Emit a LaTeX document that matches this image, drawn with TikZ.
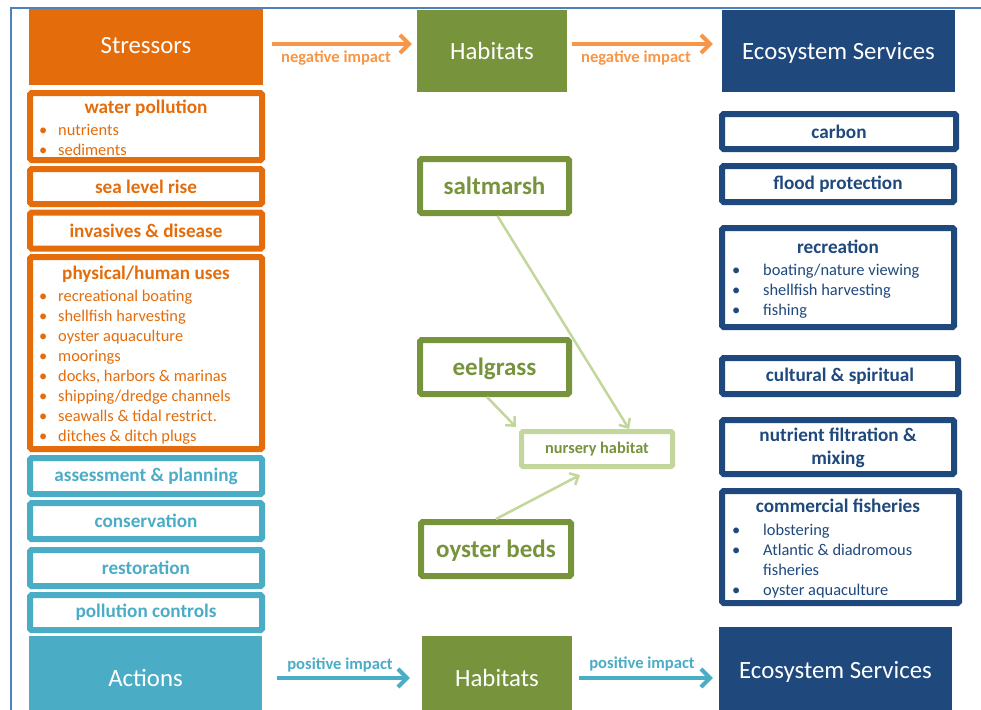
\documentclass[tikz,border=0pt]{standalone}
\usepackage{fontspec}
\setmainfont{Carlito}
\usetikzlibrary{arrows.meta,calc}
\definecolor{orng}{HTML}{E46C0A}
\definecolor{lorng}{HTML}{F79646}
\definecolor{teal2}{HTML}{4BACC6}
\definecolor{grn}{HTML}{77933C}
\definecolor{lgrn}{HTML}{C3D69B}
\definecolor{navy}{HTML}{1F497D}
\definecolor{frm}{HTML}{4F81BD}
\begin{document}
\begin{tikzpicture}[x=1pt,y=-1pt,
  fillbox/.style={fill=#1, draw=none, inner sep=0pt, text=white, font=\fontsize{24.8}{28}\selectfont},
  sbox/.style={draw=#1, line width=6pt, rounded corners=1.5pt, fill=white, inner sep=0pt, text=#1, font=\fontsize{19.2}{22}\selectfont\bfseries},
  gbox/.style={draw=grn, line width=6pt, rounded corners=1.5pt, fill=white, inner sep=0pt, text=grn, text depth=0pt, font=\fontsize{25}{28}\selectfont\bfseries},
  nbox/.style={draw=lgrn, line width=5pt, rounded corners=1.5pt, fill=white, inner sep=0pt, text=grn, font=\fontsize{16.3}{18}\selectfont\bfseries},
  ttl/.style={text=#1, font=\fontsize{19.2}{22}\selectfont\bfseries, inner sep=0pt, anchor=mid},
  itm/.style={text=#1, font=\fontsize{16.4}{20}\selectfont, inner sep=0pt, anchor=mid west},
  lbl/.style={text=#1, font=\fontsize{16.6}{18}\selectfont\bfseries, inner sep=0pt},
  oarr/.style={draw=#1, line width=4pt, -{Straight Barb[length=9pt,width=18pt]}},
  garr/.style={draw=lgrn, line width=2.5pt, -{Straight Barb[length=7pt,width=13pt]}}
]
\useasboundingbox (0,0) rectangle (981,709);
\clip (0,0) rectangle (981,709);
\fill[white] (0,0) rectangle (981,709);
% frame
\draw[frm, line width=1.5pt] (11,712) -- (11,8) -- (984,8);

% headers
\node[fillbox=orng, minimum width=234pt, minimum height=76pt, text depth=3pt] (str) at (146,47) {Stressors};
\node[fillbox=grn, minimum width=150pt, minimum height=82pt] (habT) at (492,51) {Habitats};
\node[fillbox=navy, minimum width=233pt, minimum height=82pt, text depth=0pt] (esT) at (838.5,51) {Ecosystem Services};
\node[fillbox=teal2, minimum width=233pt, minimum height=84pt] (act) at (145.5,678) {Actions};
\node[fillbox=grn, minimum width=150pt, minimum height=84pt] (habB) at (497,678) {Habitats};
\node[fillbox=navy, minimum width=233pt, minimum height=86pt, text depth=0pt] (esB) at (835.5,670) {Ecosystem Services};

% top arrows
\draw[oarr=lorng] ($(str.east)+(9,-3)$) -- ($(habT.west)+(-5,-7)$);
\draw[oarr=lorng] ($(habT.east)+(5,-7)$) -- ($(esT.west)+(-9,-7)$);
\node[lbl=lorng] (n1) at (336,58) {negative impact};
\node[lbl=lorng] (n2) at (636,58) {negative impact};
% bottom arrows
\draw[oarr=teal2] ($(act.east)+(15,0)$) -- ($(habB.west)+(-12,0)$);
\draw[oarr=teal2] ($(habB.east)+(7,0)$) -- ($(esB.west)+(-6,8)$);
\node[lbl=teal2] (p1) at (340,665) {positive impact};
\node[lbl=teal2] (p2) at (642,664) {positive impact};

% stressor boxes
\node[sbox=orng, minimum width=232pt, minimum height=67pt] (wp) at (146,126.5) {};
\node[ttl=orng] (wpt) at (146,111) {water pollution};
\foreach \t [count=\i] in {nutrients, sediments}
  \node[itm=orng] (wp\i) at (39,113+20*\i) {\makebox[19pt][l]{•}\t};
\node[sbox=orng, minimum width=232pt, minimum height=35pt] (slr) at (146,186.5) {sea level rise};
\node[sbox=orng, minimum width=232pt, minimum height=36pt] (inv) at (146,230.5) {invasives \& disease};
\node[sbox=orng, minimum width=232pt, minimum height=192pt] (phy) at (146,353) {};
\node[ttl=orng] (phyt) at (146,277) {physical/human uses};
\foreach \t [count=\i] in {recreational boating, shellfish harvesting, oyster aquaculture, moorings, {docks, harbors \& marinas}, shipping/dredge channels, seawalls \& tidal restrict., ditches \& ditch plugs}
  \node[itm=orng] (ph\i) at (39,279+20*\i) {\makebox[19pt][l]{•}\t};

% action boxes
\node[sbox=teal2, minimum width=232pt, minimum height=36pt] (asp) at (146,476) {assessment \& planning};
\node[sbox=teal2, minimum width=232pt, minimum height=36pt] (con) at (146,521) {conservation};
\node[sbox=teal2, minimum width=232pt, minimum height=36pt] (res) at (146,568) {restoration};
\node[sbox=teal2, minimum width=232pt, minimum height=35pt] (pol) at (146,612.5) {pollution controls};

% habitats
\node[gbox, minimum width=149pt, minimum height=54pt] (salt) at (494.5,186) {saltmarsh};
\node[gbox, minimum width=149pt, minimum height=54pt] (eel) at (494.5,367) {eelgrass};
\node[gbox, minimum width=150pt, minimum height=54pt] (oys) at (496,549) {oyster beds};
\node[nbox, minimum width=151pt, minimum height=35pt] (nur) at (597,449) {nursery habitat};
\draw[garr] ([xshift=3pt]salt.south) -- ([xshift=32pt]nur.north);
\draw[garr] ([xshift=-7.5pt]eel.south) -- ([xshift=-3pt,yshift=2pt]nur.north west);
\draw[garr] (oys.north) -- ([xshift=-17pt,yshift=-6pt]nur.south);

% ecosystem services boxes
\node[sbox=navy, minimum width=234pt, minimum height=35pt] (carb) at (839,131.5) {carbon};
\node[sbox=navy, minimum width=232pt, minimum height=36pt] (fld) at (838,184) {flood protection};
\node[sbox=navy, minimum width=232pt, minimum height=99pt] (rec) at (838,277.5) {};
\node[ttl=navy] (rect) at (838,251) {recreation};
\foreach \t [count=\i] in {boating/nature viewing, shellfish harvesting, fishing}
  \node[itm=navy] (rc\i) at (732,253+20*\i) {\makebox[31pt][l]{•}\t};
\node[sbox=navy, minimum width=236pt, minimum height=36pt] (cul) at (840,376) {cultural \& spiritual};
\node[sbox=navy, minimum width=232pt, minimum height=54pt] (nut) at (838,447) {};
\node[ttl=navy] (nut1) at (838,439) {nutrient filtration \&};
\node[ttl=navy] (nut2) at (838,462) {mixing};
\node[sbox=navy, minimum width=237pt, minimum height=112pt] (com) at (840.5,547) {};
\node[ttl=navy] (comt) at (838,510) {commercial fisheries};
\node[itm=navy] (cm1) at (732,533) {\makebox[31pt][l]{•}lobstering};
\node[itm=navy] (cm2) at (732,553) {\makebox[31pt][l]{•}Atlantic \& diadromous};
\node[itm=navy] (cm3) at (732,573) {\makebox[31pt][l]{}fisheries};
\node[itm=navy] (cm4) at (732,593) {\makebox[31pt][l]{•}oyster aquaculture};
\end{tikzpicture}
\end{document}
